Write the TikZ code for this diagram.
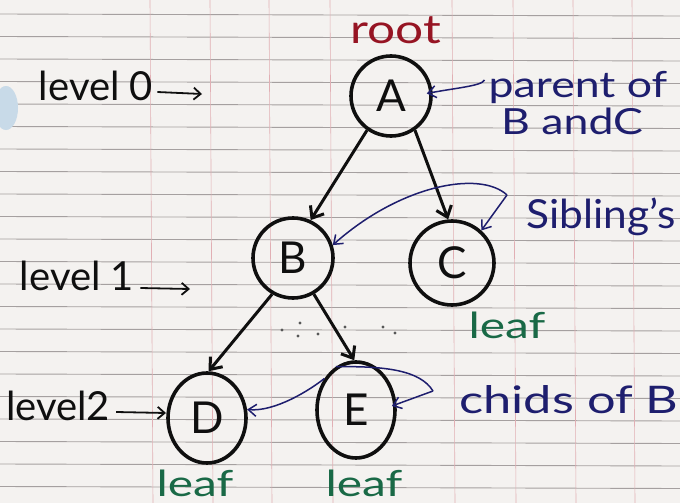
\documentclass[tikz,border=0pt]{standalone}
\usepackage{fontspec}
\usepackage{graphicx}
\setmainfont{Lato}
\usetikzlibrary{arrows.meta,shapes.geometric}
\definecolor{paper}{RGB}{244,242,240}
\definecolor{rule}{RGB}{165,160,160}
\definecolor{vrule}{RGB}{225,175,180}
\definecolor{ink}{RGB}{15,15,15}
\definecolor{bink}{RGB}{30,30,110}
\definecolor{rink}{RGB}{150,20,35}
\definecolor{gink}{RGB}{25,105,70}
\definecolor{blob}{RGB}{200,218,232}
\newcommand{\hw}[2]{\scalebox{#1}[1]{#2}}
\tikzset{
  treenode/.style={draw=ink, line width=3.6pt, circle, minimum size=80pt, inner sep=0pt, font=\fontsize{44}{44}\selectfont, text=ink},
  edge/.style={draw=ink, line width=3pt, -{Straight Barb[length=10pt,width=16pt,line width=3pt]}},
  note/.style={draw=bink, line width=1.5pt, -{Straight Barb[length=8pt,width=12pt,line width=1.5pt]}},
  plainnote/.style={draw=bink, line width=1.5pt},
  lvl/.style={font=\fontsize{40}{40}\selectfont, text=ink, inner sep=0pt},
  bluetxt/.style={font=\fontsize{36}{36}\selectfont, text=bink, inner sep=0pt},
  leaftxt/.style={font=\fontsize{36}{36}\selectfont, text=gink, inner sep=0pt},
  larrow/.style={draw=ink, line width=1.8pt, -{Straight Barb[length=7pt,width=12pt,line width=1.8pt]}},
  speck/.style={fill=ink!70}
}
\begin{document}
\begin{tikzpicture}[x=1pt,y=-1pt]
\fill[paper] (0,0) rectangle (680,503);
\useasboundingbox (0,0) rectangle (680,503);
\foreach \y in {14,36.5,...,503} \draw[rule,line width=0.9pt] (0,\y) -- (680,\y+2);
\foreach \x in {150,210,269,330,452,513,573,632} \draw[vrule,line width=0.6pt] (\x,0) -- (\x+3,503);
\fill[blob] (6,108) ellipse [x radius=12pt, y radius=22pt];

% nodes
\node[treenode] (A) at (391,96) {A};
\node[treenode] (B) at (293,258) {B};
\node[treenode, minimum size=84pt] (C) at (452,263) {C};
\node[treenode, ellipse, minimum width=78pt, minimum height=90pt] (D) at (207,418) {D};
\node[treenode, ellipse, minimum width=78pt, minimum height=96pt] (E) at (356,410) {E};

% tree edges
\draw[edge] (A.235) -- (B.65);
\draw[edge] (A.305) -- (C.95);
\draw[edge] (B.240) -- (D.88);
\draw[edge] (B.300) -- (E.92);

% specks
\foreach \p in {(282,330),(298,336),(318,334),(345,327),(383,327),(395,333),(300,323)}
  \fill[speck] \p circle (1.6pt);

% root
\node[font=\fontsize{40}{40}\selectfont, text=rink, inner sep=0pt] (root) at (396,30) {\hw{1.24}{root}};

% level labels
\node[lvl] (l0) at (96,86) {level 0};
\coordinate (l0e) at (202,94);
\draw[larrow] (l0.east) ++(4,6) coordinate (l0s) -- (l0e);
\node[lvl] (l1) at (77,276) {level 1};
\coordinate (l1e) at (190,289);
\draw[larrow] (l1.east) ++(6,12) coordinate (l1s) -- (l1e);
\node[lvl] (l2) at (58,406) {level2};
\coordinate (l2e) at (166,413);
\draw[larrow] (l2.east) ++(6,6) coordinate (l2s) -- (l2e);

% parent of
\node[bluetxt] (par) at (578,88) {\hw{1.24}{parent of}};
\node[bluetxt] (par2) at (572,121) {\hw{1.24}{B andC}};
\draw[note, shorten >=-6pt] (par.west) ++(-4,-8) .. controls (482,86) and (455,88) .. (A.5);

% siblings
\node[bluetxt, font=\fontsize{40}{40}\selectfont] (sib) at (601,217) {\hw{1.06}{Sibling's}};
\coordinate (sibc) at (507,195);
\draw[note] (sibc) .. controls (480,170) and (400,185) .. (B.18);
\draw[note] (sibc) -- (C.48);

% leaf
\node[leaftxt] (leafC) at (507,325) {\hw{1.33}{leaf}};
\node[leaftxt] (leafD) at (195,483) {\hw{1.33}{leaf}};
\node[leaftxt] (leafE) at (364,483) {\hw{1.33}{leaf}};

% childs of B
\node[bluetxt, font=\fontsize{38}{38}\selectfont] (chi) at (569,400) {\hw{1.33}{chids of B}};
\coordinate (chic) at (433,391);
\draw[plainnote] (chic) .. controls (420,370) and (385,366) .. (E.115);
\draw[note] (E.135) .. controls (310,390) and (275,412) .. (D.12);
\draw[note, shorten >=-5pt] (chic) -- (E.8);
\end{tikzpicture}
\end{document}
